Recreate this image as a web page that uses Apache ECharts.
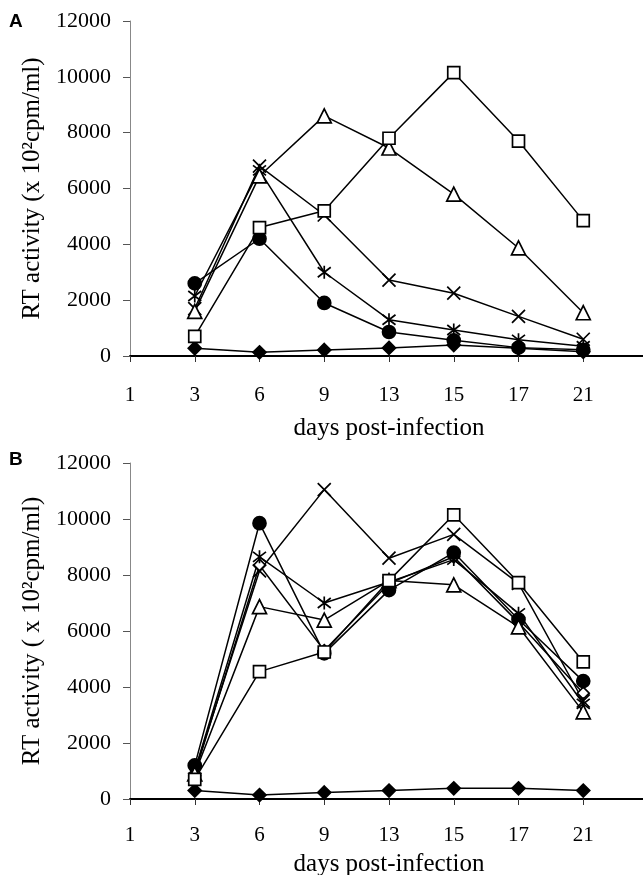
<!DOCTYPE html>
<html>
<head>
<meta charset="utf-8">
<style>html,body{margin:0;padding:0;background:#fff}#c{width:643px;height:875px}</style>
<script src="https://cdn.jsdelivr.net/npm/echarts@6/dist/echarts.min.js"></script>
</head>
<body>
<div id="c"></div>
<script>
// ---- data ----
const days = ['1', '3', '6', '9', '13', '15', '17', '21', ''];
const yTicks = [0, 2000, 4000, 6000, 8000, 10000, 12000];

// Panel A
const aSquare   = [null, 700, 4600, 5200, 7800, 10150, 7700, 4850, null];
const aTriangle = [null, 1600, 6450, 8600, 7450, 5800, 3870, 1550, null];
const aCross    = [null, 1700, 6800, 5050, 2720, 2250, 1420, 600, null];
const aStar     = [null, 2150, 6650, 3000, 1300, 930, 580, 350, null];
const aCircle   = [null, 2600, 4200, 1900, 860, 560, 300, 220, null];
const aDiamond  = [null, 280, 130, 215, 290, 390, 280, 150, null];

// Panel B
const bSquare      = [null, 700, 4550, 5250, 7800, 10150, 7730, 4900, null];
const bTriangle    = [null, 900, 6870, 6390, 7800, 7650, 6150, 3110, null];
const bCross       = [null, 1000, 8150, 11050, 8600, 9450, 7700, 3500, null];
const bStar        = [null, 1000, 8650, 7000, 7750, 8550, 6630, 3400, null];
const bCircle      = [null, 1200, 9850, 5200, 7460, 8800, 6410, 4210, null];
const bOpenDiamond = [null, 900, 8350, 5300, 7700, 8650, 6300, 3780, null];
const bDiamond     = [null, 300, 140, 230, 300, 380, 380, 300, null];

// ---- styles ----
const FONT = '"Liberation Serif", "Times New Roman", serif';
const CROSS = 'path://M0 0 L10 10 M10 0 L0 10';
const STAR = 'path://M0 0 L10 10 M10 0 L0 10 M5 -1.5 L5 11.5';

function mk(name, data, idx, symbol, size, fill) {
  return {
    name: name, type: 'line', data: data,
    xAxisIndex: idx, yAxisIndex: idx,
    symbol: symbol, symbolSize: size,
    showAllSymbol: true,
    lineStyle: { color: '#000', width: 1.5 },
    itemStyle: { color: fill, borderColor: '#000', borderWidth: 1.7 },
    emphasis: { disabled: true },
    z: 3
  };
}

const grids = [
  { left: 130, width: 518, top: 21, height: 335, outerBoundsMode: 'none', containLabel: false },
  { left: 130, width: 518, top: 463, height: 336, outerBoundsMode: 'none', containLabel: false }
];

function xAx(gi, labelMargin, nameGap) {
  return {
    type: 'category', gridIndex: gi, data: days, boundaryGap: false,
    axisLine: { lineStyle: { color: '#000', width: 2 } },
    axisTick: { show: true, length: 6, lineStyle: { color: '#333', width: 1 } },
    axisLabel: { interval: 0, fontFamily: FONT, fontSize: 21, color: '#000', margin: labelMargin },
    name: 'days post-infection', nameLocation: 'middle', nameGap: nameGap,
    nameTextStyle: { fontFamily: FONT, fontSize: 25, color: '#000' },
    splitLine: { show: false }
  };
}
function yAx(gi, title) {
  return {
    type: 'value', gridIndex: gi, min: 0, max: 12000, interval: 2000,
    axisLine: { show: true, lineStyle: { color: '#888', width: 1 } },
    axisTick: { show: true, length: 7, lineStyle: { color: '#555', width: 1 } },
    axisLabel: { fontFamily: FONT, fontSize: 22, color: '#000', margin: 19,
      formatter: v => yTicks.indexOf(v) >= 0 ? String(v) : '' },
    splitLine: { show: false },
    name: title, nameLocation: 'middle', nameRotate: 90, nameGap: 83,
    nameTextStyle: { fontFamily: FONT, fontSize: 25, color: '#000' }
  };
}

const chart = echarts.init(document.getElementById('c'), null, { renderer: 'canvas' });
chart.setOption({
  animation: false,
  backgroundColor: '#fff',
  grid: grids,
  xAxis: [xAx(0, 29, 60), xAx(1, 26, 53)],
  yAxis: [yAx(0, 'RT activity (x 10²cpm/ml)'), yAx(1, 'RT activity ( x 10²cpm/ml)')],
  graphic: [
    { type: 'text', left: 9, top: 12, style: { text: 'A', font: 'bold 19px "Liberation Sans", Arial, sans-serif', fill: '#000' } },
    { type: 'text', left: 9, top: 450, style: { text: 'B', font: 'bold 19px "Liberation Sans", Arial, sans-serif', fill: '#000' } }
  ],
  series: [
    mk('A diamond', aDiamond, 0, 'diamond', 13, '#000'),
    mk('A circle', aCircle, 0, 'circle', 13, '#000'),
    mk('A star', aStar, 0, STAR, 13, 'none'),
    mk('A cross', aCross, 0, CROSS, 13, 'none'),
    mk('A triangle', aTriangle, 0, 'triangle', 14, '#fff'),
    mk('A square', aSquare, 0, 'rect', 12, '#fff'),

    mk('B diamond', bDiamond, 1, 'diamond', 13, '#000'),
    mk('B open diamond', bOpenDiamond, 1, 'diamond', 12, '#fff'),
    mk('B circle', bCircle, 1, 'circle', 13, '#000'),
    mk('B star', bStar, 1, STAR, 13, 'none'),
    mk('B cross', bCross, 1, CROSS, 13, 'none'),
    mk('B triangle', bTriangle, 1, 'triangle', 14, '#fff'),
    mk('B square', bSquare, 1, 'rect', 12, '#fff')
  ]
});
</script>
</body>
</html>
